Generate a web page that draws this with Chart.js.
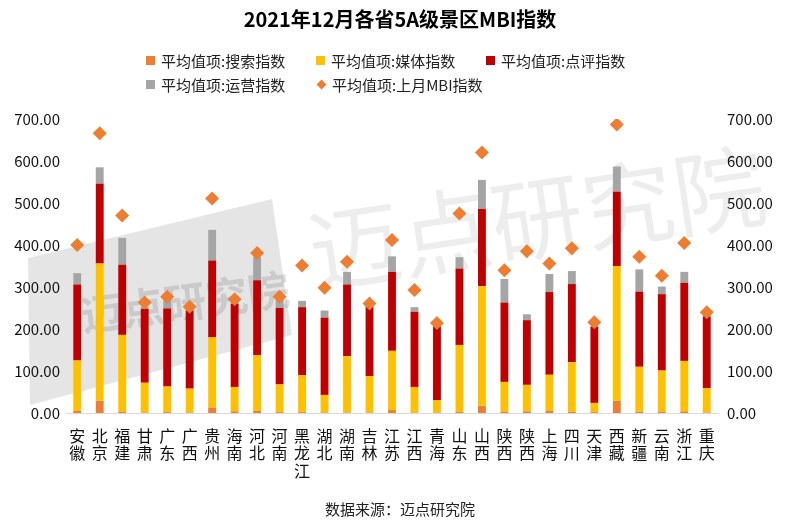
<!DOCTYPE html>
<html>
<head>
<meta charset="utf-8">
<script src="https://cdn.jsdelivr.net/npm/chart.js@4/dist/chart.umd.min.js"></script>
<style>
    body { margin: 0; background: #fff; }
    #wrap { position: relative; width: 800px; height: 529px; }
    #legend {
        position: absolute; left: 146px; top: 50px;
        display: grid; grid-template-columns: 170px 170px 170px; row-gap: 4px;
        font: 15px "Noto Sans CJK SC", sans-serif; color: #222;
    }
    .item { display: flex; align-items: center; white-space: nowrap; height: 20px; }
    .sw { display: inline-block; width: 9px; height: 9px; margin-right: 6px; }
    .dm { display: inline-block; width: 7px; height: 7px; transform: rotate(45deg); margin: 0 7px 0 2px; }
</style>
</head>
<body>
<div id="wrap">
    <canvas id="mbi-chart" width="800" height="529"></canvas>
    <div id="legend"></div>
</div>
<script>
    // 省份（竖排显示）
    const provinces = ['安徽', '北京', '福建', '甘肃', '广东', '广西', '贵州', '海南', '河北', '河南',
        '黑龙江', '湖北', '湖南', '吉林', '江苏', '江西', '青海', '山东', '山西', '陕西',
        '陕西', '上海', '四川', '天津', '西藏', '新疆', '云南', '浙江', '重庆'];

    const searchIndex = [5, 29, 3, 1, 2, 1, 13, 4, 5, 2, 2, 1, 1, 1, 7, 1, 1, 3, 17, 3, 4, 5, 3, 2, 29, 3, 3, 4, 1];
    const mediaIndex = [120, 327, 183, 71, 61, 57, 167, 58, 133, 66, 88, 42, 134, 87, 141, 61, 29, 159, 285, 71, 63, 86, 118, 22, 321, 107, 98, 120, 58];
    const reviewIndex = [181, 190, 167, 176, 186, 186, 183, 198, 178, 182, 162, 184, 171, 165, 188, 179, 176, 182, 184, 189, 154, 197, 186, 181, 177, 179, 182, 186, 171];
    const opsIndex = [27, 39, 64, 5, 20, 5, 73, 5, 56, 19, 15, 17, 30, 9, 37, 11, 3, 27, 69, 56, 14, 43, 31, 3, 60, 53, 18, 26, 4];
    const lastMonthMBI = [400, 666, 470, 263, 277, 253, 511, 271, 381, 277, 351, 298, 360, 261, 412, 293, 214, 475, 620, 340, 385, 356, 392, 216, 687, 372, 327, 405, 240];

    const yTicks = [0, 100, 200, 300, 400, 500, 600, 700];

    Chart.defaults.font.family = '"Noto Sans CJK SC", sans-serif';
    Chart.defaults.color = '#111';

    // 水印：迈点研究院
    const watermark = {
        id: 'watermark',
        beforeDatasetsDraw(chart) {
            const ctx = chart.ctx;
            ctx.save();
            // 左侧灰色楔形 logo 背景
            ctx.fillStyle = 'rgba(0,0,0,0.10)';
            ctx.beginPath();
            ctx.moveTo(28, 258);
            ctx.lineTo(272, 199);
            ctx.lineTo(292, 335);
            ctx.lineTo(30, 405);
            ctx.closePath();
            ctx.fill();
            // logo 内小字
            ctx.translate(185, 302);
            ctx.rotate(-0.13);
            ctx.fillStyle = 'rgba(0,0,0,0.12)';
            ctx.font = 'bold 42px "Noto Sans CJK SC"';
            ctx.textAlign = 'center';
            ctx.textBaseline = 'middle';
            ctx.fillText('迈点研究院', 0, 0);
            ctx.restore();

            // 中部大字
            ctx.save();
            ctx.translate(537, 218);
            ctx.rotate(-0.15);
            ctx.fillStyle = 'rgba(0,0,0,0.07)';
            ctx.font = '92px "Noto Sans CJK SC"';
            ctx.textAlign = 'center';
            ctx.textBaseline = 'middle';
            ctx.fillText('迈点研究院', 0, 0);
            ctx.restore();
        }
    };

    const barStyle = { barPercentage: 0.35, categoryPercentage: 1, order: 1, stack: 's' };

    const chart = new Chart(document.getElementById('mbi-chart'), {
        type: 'bar',
        data: {
            labels: provinces.map(p => p.split('')), // 每个字一行
            datasets: [
                { label: '平均值项:搜索指数', data: searchIndex, backgroundColor: '#ED7D31', ...barStyle },
                { label: '平均值项:媒体指数', data: mediaIndex, backgroundColor: '#FFC000', ...barStyle },
                { label: '平均值项:点评指数', data: reviewIndex, backgroundColor: '#C00000', ...barStyle },
                { label: '平均值项:运营指数', data: opsIndex, backgroundColor: '#A5A5A5', ...barStyle },
                {
                    type: 'line', label: '平均值项:上月MBI指数', data: lastMonthMBI,
                    yAxisID: 'y1', showLine: false, order: 0,
                    pointStyle: 'rectRot', pointRadius: 7, pointHoverRadius: 7,
                    backgroundColor: '#ED7D31', borderColor: '#ED7D31', borderWidth: 0
                }
            ]
        },
        options: {
            responsive: false,
            animation: false,
            layout: { padding: 0 },
            plugins: {
                legend: { display: false },
                tooltip: { enabled: false },
                title: {
                    display: true, text: '2021年12月各省5A级景区MBI指数',
                    font: { size: 20, weight: 'bold' }, color: '#000',
                    padding: { top: 7, bottom: 88 }
                },
                subtitle: {
                    display: true, position: 'bottom', text: '数据来源：迈点研究院',
                    font: { size: 15 }, color: '#222',
                    padding: { top: 0, bottom: 11 }
                }
            },
            scales: {
                x: {
                    stacked: true,
                    grid: { display: false, drawTicks: false },
                    border: { color: '#d9d9d9' },
                    ticks: { font: { size: 16, lineHeight: 1.1 }, padding: 14, maxRotation: 0, autoSkip: false, color: '#111' },
                    afterFit: axis => { axis.height = 87; }
                },
                y: {
                    stacked: true, min: 0, max: 700,
                    grid: { display: false, drawTicks: false },
                    border: { display: false },
                    afterBuildTicks: axis => { axis.ticks = yTicks.map(v => ({ value: v })); },
                    ticks: { font: { size: 15 }, padding: 6, callback: v => v.toFixed(2) },
                    afterFit: axis => { axis.width = 66; }
                },
                y1: {
                    position: 'right', min: 0, max: 700,
                    grid: { display: false, drawTicks: false },
                    border: { display: false },
                    afterBuildTicks: axis => { axis.ticks = yTicks.map(v => ({ value: v })); },
                    ticks: { font: { size: 15 }, padding: 9, callback: v => v.toFixed(2) },
                    afterFit: axis => { axis.width = 82; }
                }
            }
        },
        plugins: [watermark]
    });

    // 自定义图例（两行，左对齐网格）
    const legendBox = document.getElementById('legend');
    chart.data.datasets.forEach(ds => {
        const item = document.createElement('div');
        item.className = 'item';
        const mark = document.createElement('span');
        mark.className = ds.type === 'line' ? 'dm' : 'sw';
        mark.style.background = ds.backgroundColor;
        item.appendChild(mark);
        item.appendChild(document.createTextNode(ds.label));
        legendBox.appendChild(item);
    });
</script>
</body>
</html>
